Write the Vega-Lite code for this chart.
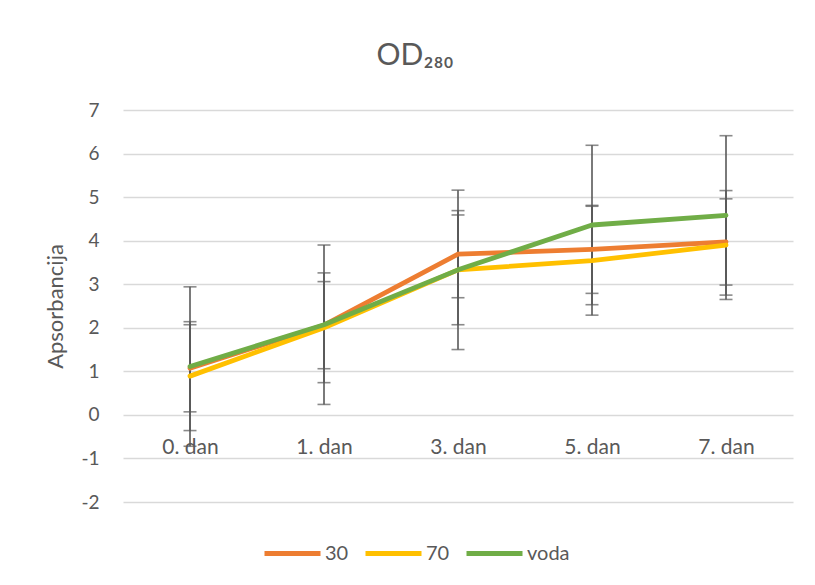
{
  "$schema": "https://vega.github.io/schema/vega-lite/v6.json",
  "width": 670,
  "height": 392,
  "autosize": {"type": "none"},
  "padding": {"left": 123, "top": 110, "right": 22, "bottom": 83},
  "background": "white",
  "config": {"view": {"stroke": null}, "font": "Lato"},
  "title": {
    "text": "OD₂₈₀",
    "fontSize": 30,
    "font": "Lato",
    "fontWeight": "normal",
    "color": "#595959",
    "anchor": "middle",
    "frame": "group",
    "dx": -43,
    "offset": 6,
    "baseline": "alphabetic"
  },
  "data": {
    "values": [
      {"series": "30", "day": "0. dan", "mean": 1.07, "sd": 1.0},
      {"series": "30", "day": "1. dan", "mean": 2.06, "sd": 1.0},
      {"series": "30", "day": "3. dan", "mean": 3.69, "sd": 1.0},
      {"series": "30", "day": "5. dan", "mean": 3.8, "sd": 1.01},
      {"series": "30", "day": "7. dan", "mean": 3.97, "sd": 0.99},
      {"series": "70", "day": "0. dan", "mean": 0.89, "sd": 1.25},
      {"series": "70", "day": "1. dan", "mean": 2.0, "sd": 1.26},
      {"series": "70", "day": "3. dan", "mean": 3.33, "sd": 1.26},
      {"series": "70", "day": "5. dan", "mean": 3.54, "sd": 1.25},
      {"series": "70", "day": "7. dan", "mean": 3.9, "sd": 1.25},
      {"series": "voda", "day": "0. dan", "mean": 1.11, "sd": 1.83},
      {"series": "voda", "day": "1. dan", "mean": 2.07, "sd": 1.83},
      {"series": "voda", "day": "3. dan", "mean": 3.33, "sd": 1.83},
      {"series": "voda", "day": "5. dan", "mean": 4.36, "sd": 1.83},
      {"series": "voda", "day": "7. dan", "mean": 4.58, "sd": 1.83}
    ]
  },
  "layer": [
    {
      "mark": {
        "type": "errorbar",
        "ticks": {"size": 13, "thickness": 1.6, "color": "#595959"},
        "rule": {"strokeWidth": 1.6, "color": "#595959"}
      },
      "encoding": {
        "x": {
          "field": "day", "type": "ordinal", "sort": null,
          "scale": {"type": "point", "padding": 0.5},
          "axis": {"title": null, "offset": -87, "labelPadding": 21, "labelFontSize": 21, "labelColor": "#595959", "domain": false, "ticks": false, "grid": false, "labelAngle": 0}
        },
        "y": {
          "field": "mean", "type": "quantitative", "title": "Apsorbancija",
          "scale": {"domain": [-2, 7], "nice": false}
        },
        "yError": {"field": "sd"}
      }
    },
    {
      "mark": {"type": "line", "strokeWidth": 4.8, "strokeCap": "round", "strokeJoin": "round"},
      "encoding": {
        "x": {
          "field": "day", "type": "ordinal", "sort": null,
          "scale": {"type": "point", "padding": 0.5},
          "axis": {"title": null, "offset": -87, "labelPadding": 21, "labelFontSize": 21, "labelColor": "#595959", "domain": false, "ticks": false, "grid": false, "labelAngle": 0}
        },
        "y": {
          "field": "mean", "type": "quantitative",
          "scale": {"domain": [-2, 7], "nice": false},
          "axis": {
            "title": "Apsorbancija",
            "values": [-2, -1, 0, 1, 2, 3, 4, 5, 6, 7],
            "labelExpr": "datum.value + ''",
            "labelFontSize": 19,
            "labelColor": "#595959",
            "labelPadding": 24,
            "titleFontSize": 22,
            "titleFontWeight": "normal",
            "titleColor": "#595959",
            "titlePadding": 13,
            "domain": false,
            "ticks": false,
            "gridColor": "#d9d9d9",
            "gridWidth": 1.3
          }
        },
        "color": {
          "field": "series", "type": "nominal",
          "scale": {"domain": ["30", "70", "voda"], "range": ["#ED7D31", "#FFC000", "#70AD47"]},
          "legend": {
            "title": null,
            "orient": "none",
            "legendX": 139,
            "legendY": 413,
            "direction": "horizontal",
            "gridAlign": "none",
            "symbolType": "stroke",
            "symbolSize": 3136,
            "symbolStrokeWidth": 5,
            "labelFontSize": 20,
            "labelColor": "#595959",
            "labelOffset": 2,
            "columnPadding": 6
          }
        }
      }
    }
  ]
}
